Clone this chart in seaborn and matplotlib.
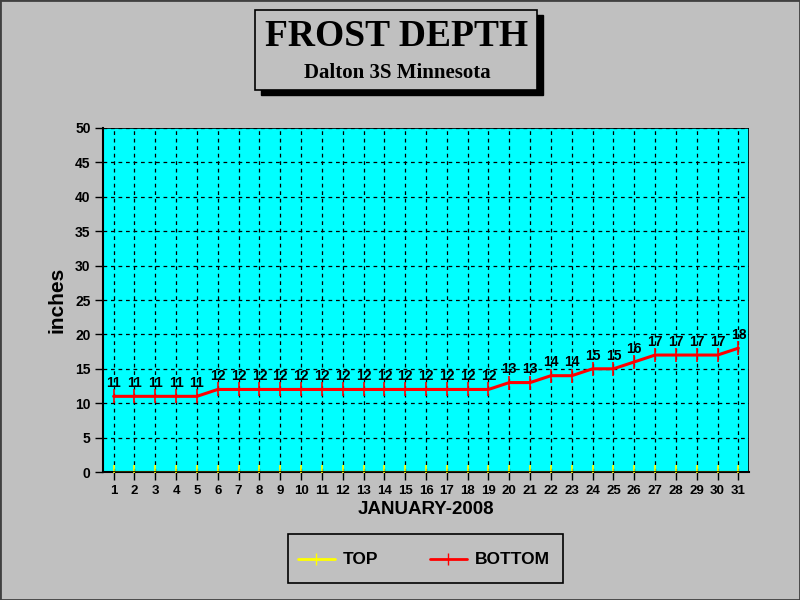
import matplotlib
matplotlib.use("Agg")
import matplotlib.pyplot as plt
import pandas as pd
import seaborn as sns
from matplotlib.patches import Rectangle

days = list(range(1, 32))
top_depth = [0] * 31
bottom_depth = [11, 11, 11, 11, 11, 12, 12, 12, 12, 12, 12, 12, 12, 12, 12, 12,
                12, 12, 12, 13, 13, 14, 14, 15, 15, 16, 17, 17, 17, 17, 18]
y_ticks = list(range(0, 51, 5))

df = pd.DataFrame({"day": days, "TOP": top_depth, "BOTTOM": bottom_depth})
long_df = df.melt(id_vars="day", var_name="layer", value_name="depth")

sns.set_theme(style="white")
plt.rcParams["font.family"] = ["Liberation Sans", "DejaVu Sans"]
plt.rcParams["text.color"] = "black"
plt.rcParams["axes.labelcolor"] = "black"
plt.rcParams["xtick.color"] = "black"
plt.rcParams["ytick.color"] = "black"
narrow = ["Liberation Sans Narrow", "Liberation Sans", "DejaVu Sans"]

fig = plt.figure(figsize=(8, 6), dpi=100, facecolor="#c0c0c0")
ax = fig.add_axes([0.129, 0.2133, 0.807, 0.5734])
ax.set_facecolor("#00ffff")

sns.lineplot(data=long_df, x="day", y="depth", hue="layer",
             palette={"TOP": "#ffff00", "BOTTOM": "#ff0000"},
             marker="|", markersize=10, markeredgewidth=1.2,
             linewidth=2.2, ax=ax, legend=False)
for line in ax.get_lines():
    line.set_markeredgecolor(line.get_color())
    line.set_zorder(4)

for d, v in zip(days, bottom_depth):
    ax.text(d, v + 0.9, str(v), ha="center", va="bottom", fontsize=10,
            fontweight="bold", family=narrow, color="black")

ax.set_xlim(0.5, 31.5)
ax.set_ylim(0, 50)
ax.set_xticks(days)
ax.set_yticks(y_ticks)
ax.set_xticklabels([str(d) for d in days], fontsize=9.5, fontweight="bold",
                   family=narrow)
ax.set_yticklabels([str(t) for t in y_ticks], fontsize=10, fontweight="bold",
                   family=narrow)
ax.tick_params(axis="both", direction="out", length=6, width=1, color="black",
               bottom=True, left=True, pad=3)
ax.grid(True, color="black", linestyle=(0, (3, 3)), linewidth=0.9)
for side in ["top", "right"]:
    ax.spines[side].set_visible(False)
ax.spines["left"].set_color("black")
ax.spines["bottom"].set_color("black")
ax.spines["left"].set_linewidth(1.5)
ax.spines["bottom"].set_linewidth(1.5)
ax.set_xlabel("JANUARY-2008", fontsize=13.5, fontweight="bold", labelpad=3)
ax.set_ylabel("inches", fontsize=15, fontweight="bold", labelpad=6)

ax.add_patch(Rectangle((0, 0), 1, 1, transform=ax.transAxes, fill=False,
                       edgecolor="black", linewidth=1.2, zorder=5))

# title box with shadow
fig.patches.append(Rectangle((261 / 800, 1 - 95 / 600), 282 / 800, 80 / 600,
                             transform=fig.transFigure, facecolor="black",
                             edgecolor="black", zorder=1))
fig.patches.append(Rectangle((255 / 800, 1 - 90 / 600), 282 / 800, 80 / 600,
                             transform=fig.transFigure, facecolor="#c0c0c0",
                             edgecolor="black", linewidth=1.2, zorder=2))
fig.text(397 / 800, 1 - 36 / 600, "FROST DEPTH", ha="center", va="center",
         fontsize=27, fontweight="bold", family="Liberation Serif", zorder=3)
fig.text(397 / 800, 1 - 73 / 600, "Dalton 3S Minnesota", ha="center",
         va="center", fontsize=15, fontweight="bold", family="Liberation Serif",
         zorder=3)

# legend box
fig.patches.append(Rectangle((288 / 800, 1 - 583 / 600), 275 / 800, 49 / 600,
                             transform=fig.transFigure, facecolor="#c0c0c0",
                             edgecolor="black", linewidth=1.2))
legend_items = [("TOP", "#ffff00", 298), ("BOTTOM", "#ff0000", 430)]
for label, color, x0 in legend_items:
    y0 = 1 - 559 / 600
    fig.add_artist(plt.Line2D([x0 / 800, (x0 + 37) / 800], [y0, y0],
                              color=color, linewidth=2,
                              transform=fig.transFigure))
    fig.add_artist(plt.Line2D([(x0 + 18) / 800], [y0], color=color,
                              marker="|", markersize=8,
                              transform=fig.transFigure))
    fig.text((x0 + 45) / 800, y0, label, ha="left", va="center",
             fontsize=12.5, fontweight="bold")

# outer border
fig.patches.append(Rectangle((0, 0), 1, 1, transform=fig.transFigure,
                             fill=False, edgecolor="#404040", linewidth=2))

fig.savefig("out.png", dpi=100, facecolor=fig.get_facecolor())
